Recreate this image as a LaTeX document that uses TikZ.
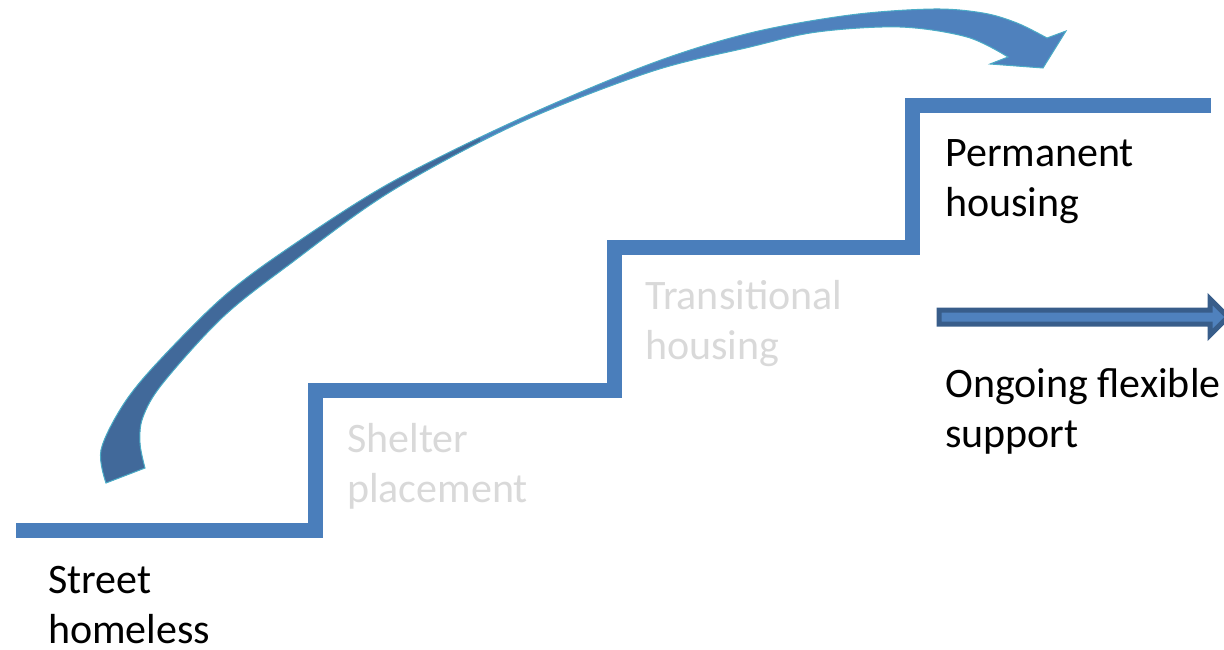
\documentclass[tikz,border=0pt]{standalone}
\usepackage{fontspec}
\setmainfont{Carlito}
\definecolor{stairblue}{HTML}{4A7EBB}
\definecolor{arrowlight}{HTML}{4F81BD}
\definecolor{arrowdark}{HTML}{41699A}
\definecolor{arrowedge}{HTML}{4BACC6}
\definecolor{shaftedge}{HTML}{385D8A}
\definecolor{fadedtext}{HTML}{D9D9D9}
\tikzset{
  stairline/.style={draw=stairblue, line width=15pt, line join=miter},
  label/.style={inner sep=0pt, anchor=base west, align=left, font=\fontsize{42}{50}\selectfont},
  faded/.style={label, text=fadedtext},
  blockarrow/.style={fill=arrowlight, draw=shaftedge, line width=5pt, line join=miter},
}
\begin{document}
\begin{tikzpicture}[x=1pt,y=-1pt]
\useasboundingbox (0,0) rectangle (1224,649);
\clip (0,0) rectangle (1224,649);

% staircase
\coordinate (s0) at (16,530);
\coordinate (s1) at (315,530);
\coordinate (s2) at (315,390);
\coordinate (s3) at (614,390);
\coordinate (s4) at (614,247);
\coordinate (s5) at (912,247);
\coordinate (s6) at (912,105);
\coordinate (s7) at (1211,105);
\draw[stairline] (s0) -- (s1) -- (s2) -- (s3) -- (s4) -- (s5) -- (s6) -- (s7);

% curved ribbon arrow
\def\ribbon{
  plot[smooth, tension=0.55] coordinates {(106,483) (101,450) (123,405) (157,363) (223,297) (290,247) (390,183) (517,120) (650,64) (750,33) (850,15) (933,9) (983,13) (1017,23) (1047,38)}
  -- (1066,31) -- (1043,68) -- (990,64) -- (1008,57)
  -- plot[smooth, tension=0.55] coordinates {(1008,57) (967,37) (900,27) (817,32) (750,47) (650,72) (517,124) (390,192) (290,264) (223,317) (163,383) (143,417) (140,443) (145,468)}
  -- cycle}
\fill[arrowlight] \ribbon;
\begin{scope}
  \clip (0,0) rectangle (480,649);
  \fill[arrowdark] \ribbon;
\end{scope}
\draw[arrowedge, line width=1pt, line join=miter] \ribbon;

% straight block arrow
\draw[blockarrow] (939,310) -- (1210,310) -- (1210,299) -- (1228,317) -- (1210,335) -- (1210,324) -- (939,324) -- cycle;

% labels
\node[label] (street) at (48,643) {Street\\homeless};
\node[faded] (shelter) at (347,502) {Shelter\\placement};
\node[faded] (transitional) at (645,359) {Transitional\\housing};
\node[label] (permanent) at (945,216) {Permanent\\housing};
\node[label] (ongoing) at (945,447) {Ongoing flexible\\support};
\end{tikzpicture}
\end{document}
